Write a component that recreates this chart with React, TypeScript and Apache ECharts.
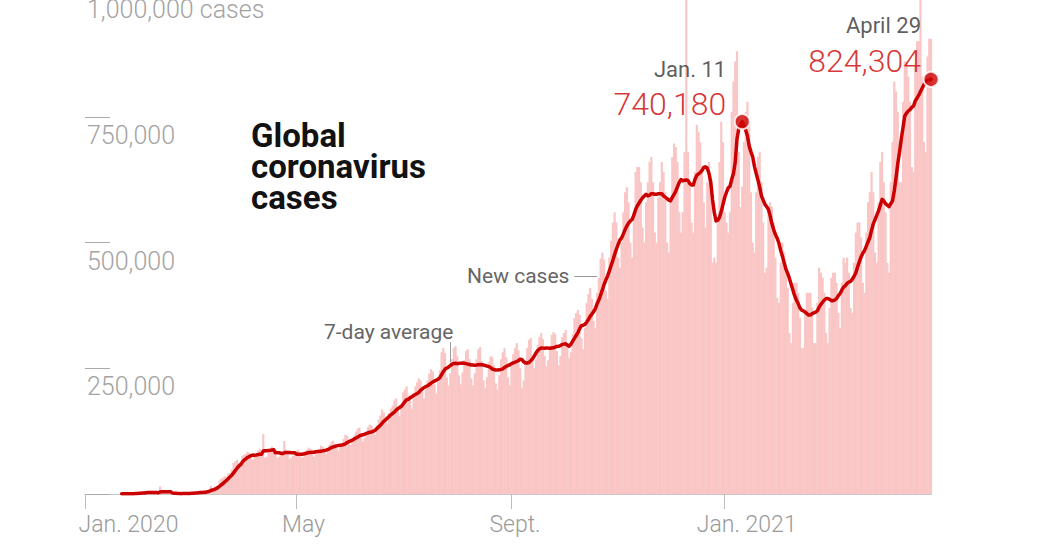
import React, { useEffect, useRef } from 'react';
import * as echarts from 'echarts';

// ---------- DATA ----------
const AXIS_START = '2020-01-01';
const AXIS_END = '2021-04-29';

// Daily new cases worldwide, in thousands
const jan2020 = [0.55, 0.1, 0.29, 0.49, 0.68, 0.8, 1.35, 0.6, 1.7, 2.0]; // from Jan. 22
const feb2020 = [2.1, 2.6, 2.8, 3.2, 3.7, 3.2, 3.4, 2.7, 3.0, 2.5, 2.0, 0.4, 15.1, 6.5, 2.1, 2.0, 2.0, 1.9, 0.5, 0.6, 1.0, 1.0, 0.6, 0.6, 0.8, 0.9, 1.1, 1.3, 1.8];
const mar2020 = [1.9, 1.9, 2.5, 2.3, 2.8, 3.9, 4.0, 4.1, 3.9, 4.5, 7.3, 8.5, 16.0, 10.9, 13.5, 14.5, 17.5, 27.0, 30.0, 32.5, 35.5, 33.0, 40.5, 41.5, 49.0, 62.0, 65.0, 68.0, 62.0, 60.0, 76.0];
const apr2020 = [78, 80, 84, 82, 74, 68, 74, 80, 86, 90, 82, 119, 72, 74, 84, 88, 94, 84, 78, 72, 74, 78, 82, 105, 88, 80, 70, 72, 76, 82];
const may2020 = [86, 88, 78, 72, 74, 84, 88, 92, 90, 80, 74, 80, 86, 90, 96, 94, 84, 80, 90, 98, 104, 106, 100, 92, 86, 94, 100, 110, 118, 116, 104];
const jun2020 = [98, 104, 116, 124, 130, 132, 114, 104, 112, 126, 134, 138, 136, 124, 118, 136, 148, 156, 168, 162, 146, 140, 160, 170, 176, 186, 190, 166, 156, 176];
const jul2020 = [202, 208, 214, 196, 186, 170, 196, 214, 222, 230, 226, 204, 190, 208, 226, 240, 248, 244, 218, 200, 222, 246, 282, 290, 280, 232, 216, 240, 268, 290, 294];
const aug2020 = [274, 236, 218, 242, 266, 284, 288, 268, 230, 216, 240, 268, 288, 292, 264, 226, 210, 232, 262, 274, 272, 256, 220, 208, 236, 268, 282, 290, 272, 232, 216];
const sep2020 = [256, 278, 290, 300, 286, 250, 210, 226, 262, 290, 306, 310, 276, 250, 268, 296, 312, 320, 308, 274, 254, 266, 294, 316, 322, 318, 284, 256, 274, 312];
const oct2020 = [320, 326, 300, 270, 282, 318, 350, 360, 366, 356, 310, 288, 330, 380, 398, 410, 388, 344, 330, 400, 430, 468, 480, 466, 404, 388, 470, 504, 540, 560, 540];
const nov2020 = [470, 450, 500, 560, 600, 610, 580, 500, 470, 560, 640, 650, 650, 620, 530, 500, 580, 620, 660, 670, 620, 520, 500, 590, 620, 660, 640, 600, 500, 480];
const dec2020 = [580, 670, 697, 690, 660, 560, 520, 560, 680, 700, 680, 620, 540, 520, 640, 734, 720, 700, 650, 580, 530, 620, 660, 600, 460, 470, 460, 540, 660, 740, 700];
const jan2021 = [560, 540, 520, 560, 760, 820, 860, 880, 680, 570, 611.26, 700, 760, 780, 740, 600, 500, 480, 600, 670, 680, 620, 540, 440, 450, 560, 580, 570, 540, 470, 390];
const feb2021 = [380, 460, 500, 480, 450, 410, 320, 300, 380, 420, 420, 400, 350, 290, 290, 360, 400, 400, 400, 370, 300, 300, 380, 450, 440, 430, 400, 320];
const mar2021 = [300, 370, 430, 440, 440, 420, 360, 330, 420, 470, 460, 470, 440, 370, 360, 460, 520, 540, 540, 510, 420, 400, 520, 580, 600, 640, 600, 480, 460, 580, 660];
const apr2021 = [680, 620, 560, 460, 440, 620, 700, 820, 800, 760, 620, 620, 780, 860, 860, 830, 780, 650, 640, 850, 900, 900, 880, 830, 700, 680, 870, 905, 905.128];

const monthStarts = ['2020-01-22', '2020-02-01', '2020-03-01', '2020-04-01', '2020-05-01', '2020-06-01', '2020-07-01', '2020-08-01', '2020-09-01', '2020-10-01', '2020-11-01', '2020-12-01', '2021-01-01', '2021-02-01', '2021-03-01', '2021-04-01'];
const monthValues = [jan2020, feb2020, mar2020, apr2020, may2020, jun2020, jul2020, aug2020, sep2020, oct2020, nov2020, dec2020, jan2021, feb2021, mar2021, apr2021];

// One-day backlog dumps (thousands), shown as bars but left out of the average
const backlogDates = ['2020-12-10', '2021-04-23'];
const backlogExtra = [360, 140];

// Axis ticks
const xTickDates = ['2020-01-01', '2020-05-01', '2020-09-01', '2021-01-01'];
const xTickText = ['Jan. 2020', 'May', 'Sept.', 'Jan. 2021'];
const yTickValues = [250000, 500000, 750000, 1000000];
const yTickText = ['250,000', '500,000', '750,000', '1,000,000 cases'];

// Highlighted points
const highlightDates = ['2021-01-11', '2021-04-29'];
const highlightTitles = ['Jan. 11', 'April 29'];

// Annotations (data space)
const newCasesLeader = [['2020-10-07', 433000], ['2020-10-20', 433000]];
const avgLeader = [['2020-07-28', 302000], ['2020-07-28', 262000]];

// ---------- STYLE ----------
const FONT = 'Roboto, "Helvetica Neue", Arial, sans-serif';
const RED = '#cc0000';
const BAR = '#f9c6c5';
const xLabelPadLeft = [87, 14, 7, 44];
const highlightLabelPos = [[-7.5, 9], [-1.5, 8]];

// ---------- HELPERS ----------
function addDays(iso: string, n: number): string {
  const [y, m, d] = iso.split('-').map(Number);
  const dt = new Date(Date.UTC(y, m - 1, d + n));
  return dt.toISOString().slice(0, 10);
}

function buildOption() {
  const categories: string[] = [];
  for (let i = 0; ; i++) {
    const d = addDays(AXIS_START, i);
    categories.push(d);
    if (d === AXIS_END) break;
  }
  const caseMap = new Map<string, number>();
  monthStarts.forEach((s, k) => {
    monthValues[k].forEach((v, i) => caseMap.set(addDays(s, i), v * 1000));
  });
  const daily: (number | null)[] = categories.map((d) => (caseMap.has(d) ? (caseMap.get(d) as number) : null));
  const bars = categories.map((d, i) => {
    if (daily[i] == null) return null;
    const b = backlogDates.indexOf(d);
    return (daily[i] as number) + (b >= 0 ? backlogExtra[b] * 1000 : 0);
  });
  const avg = daily.map((v, i) => {
    if (v == null) return null;
    let s = 0, c = 0;
    for (let j = Math.max(0, i - 6); j <= i; j++) {
      if (daily[j] != null) { s += daily[j] as number; c++; }
    }
    return s / c;
  });

  const tickIdx = xTickDates.map((d) => categories.indexOf(d));
  const xData = categories.map((d) => {
    const k = xTickDates.indexOf(d);
    return k >= 0 ? { value: d, textStyle: { padding: [0, 0, 0, xLabelPadLeft[k]] } } : d;
  });
  const isTick = (i: number, v: string) => tickIdx.indexOf(i) >= 0 || xTickDates.indexOf(v) >= 0;

  const highlightData = highlightDates.map((d, k) => {
    const i = categories.indexOf(d);
    const val = avg[i] as number;
    const txt = Math.round(val).toLocaleString('en-US');
    return {
      value: [d, val],
      label: {
        show: true,
        position: highlightLabelPos[k],
        align: 'right',
        verticalAlign: 'bottom',
        formatter: `{d|${highlightTitles[k]}}\n{v|${txt}}`,
      },
    };
  });

  return {
    animation: false,
    textStyle: { fontFamily: FONT },
    title: {
      text: 'Global\ncoronavirus\ncases',
      left: 251,
      top: 129,
      padding: 0,
      textStyle: { fontFamily: FONT, fontSize: 33, fontWeight: 'bold', lineHeight: 31, color: '#121212' },
    },
    grid: { left: 85, right: 119, top: 0, bottom: 56, containLabel: false },
    xAxis: {
      type: 'category',
      data: xData,
      boundaryGap: false,
      axisLine: { show: true, lineStyle: { color: '#c8c8c8', width: 1 } },
      axisTick: { show: true, interval: isTick, length: 15, lineStyle: { color: '#bdbdbd', width: 1 } },
      axisLabel: {
        interval: isTick,
        hideOverlap: false,
        formatter: (v: string) => {
          const k = xTickDates.indexOf(v);
          return k >= 0 ? xTickText[k] : '';
        },
        color: '#9a9a9a',
        fontSize: 23,
        fontWeight: 300,
        fontFamily: FONT,
        margin: 19,
        align: 'center',
      },
      splitLine: { show: false },
    },
    yAxis: {
      type: 'value',
      min: 0,
      max: 1000000,
      interval: 250000,
      axisLine: { show: false },
      splitLine: { show: false },
      axisTick: { show: true, inside: true, length: 25, lineStyle: { color: '#aaaaaa', width: 1 } },
      axisLabel: {
        inside: true,
        margin: 2,
        align: 'left',
        verticalAlign: 'top',
        padding: [6, 0, 0, 0],
        color: '#a3a3a3',
        fontSize: 25,
        fontWeight: 300,
        fontFamily: FONT,
        formatter: (v: number) => {
          const k = yTickValues.indexOf(v);
          return k >= 0 ? yTickText[k] : '';
        },
      },
    },
    series: [
      {
        type: 'bar',
        data: bars,
        barWidth: '125%',
        itemStyle: { color: BAR },
        silent: true,
        z: 1,
        markLine: {
          silent: true,
          symbol: ['none', 'none'],
          label: { show: false },
          lineStyle: { color: '#9a9a9a', width: 1, type: 'solid' },
          data: [
            [{ coord: newCasesLeader[0] }, { coord: newCasesLeader[1] }],
            [{ coord: avgLeader[0] }, { coord: avgLeader[1] }],
          ],
        },
        markPoint: {
          silent: true,
          symbol: 'circle',
          symbolSize: 0,
          itemStyle: { color: 'transparent' },
          label: { show: true, color: '#666666', fontSize: 21, fontFamily: FONT },
          data: [
            { coord: newCasesLeader[0], label: { position: 'left', distance: 5, formatter: 'New cases' } },
            { coord: avgLeader[0], label: { position: 'top', align: 'right', distance: 0, offset: [3, 0], formatter: '7-day average' } },
          ],
        },
      },
      {
        type: 'line',
        data: avg,
        symbol: 'none',
        silent: true,
        z: 3,
        lineStyle: { color: RED, width: 3.5, cap: 'round', join: 'round' },
      },
      {
        type: 'scatter',
        data: highlightData,
        symbol: 'circle',
        symbolSize: 15,
        z: 4,
        silent: true,
        itemStyle: { color: RED, borderColor: '#ffffff', borderWidth: 2 },
        label: {
          show: true,
          rich: {
            d: { fontSize: 22, color: '#333333', lineHeight: 34, align: 'right', fontFamily: FONT },
            v: { fontSize: 32, color: RED, lineHeight: 36, align: 'right', fontWeight: 300, fontFamily: FONT },
          },
        },
      },
    ],
  };
}

export default function App() {
  const ref = useRef<HTMLDivElement>(null);
  useEffect(() => {
    document.body.style.margin = '0';
    const chart = echarts.init(ref.current as HTMLDivElement, null, { renderer: 'svg' });
    chart.setOption(buildOption() as any);
    return () => chart.dispose();
  }, []);
  return (
    <div style={{ position: 'relative', width: 1050, height: 550, overflow: 'hidden' }}>
      <div ref={ref} style={{ position: 'absolute', left: 0, top: -9, width: 1050, height: 559 }} />
    </div>
  );
}
